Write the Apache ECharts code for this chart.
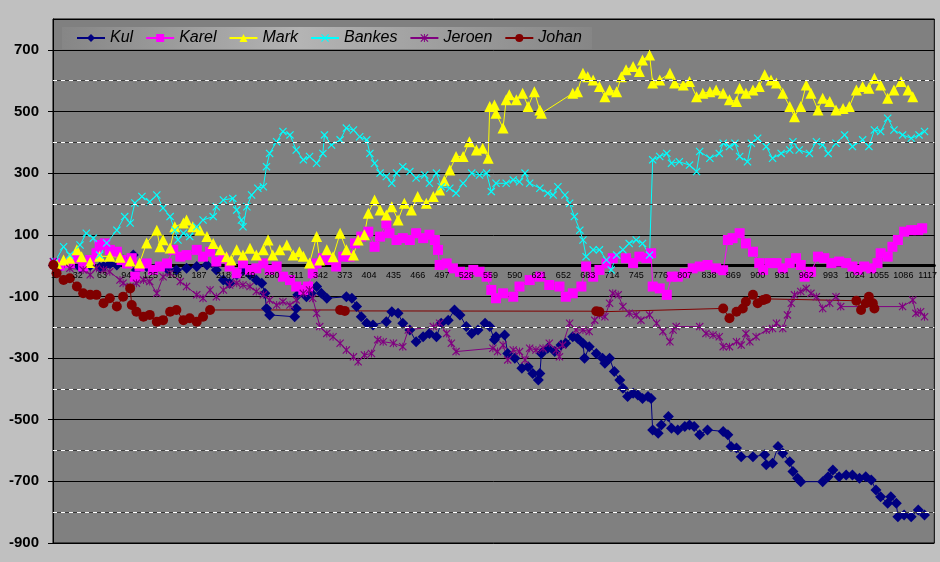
<!DOCTYPE html>
<html>
<head>
<meta charset="utf-8">
<script src="https://cdn.jsdelivr.net/npm/echarts@6/dist/echarts.min.js"></script>
<style>
html,body{margin:0;padding:0;background:#c0c0c0;}
#chart{width:940px;height:562px;}
</style>
</head>
<body>
<div id="chart"></div>
<script>
// ---- data (day number, value) ----
const categories = Array.from({length: 1125}, (_, i) => String(i + 1));
const seriesNames = ['Kul', 'Karel', 'Mark', 'Bankes', 'Jeroen', 'Johan'];
const yLabelValues = [-900, -700, -500, -300, -100, 100, 300, 500, 700];
const dashedValues = [-800, -600, -400, -200, 200, 400, 600];

const kul = [[1,0],[9,-5],[22,5],[35,-5],[48,0],[60,-5],[65,-3],[73,5],[82,2],[90,18],[103,34],[107,-14],[120,-3],[133,-5],[146,-10],[158,-14],[171,-9],[184,-3],[197,2],[209,-14],[218,-47],[226,-57],[235,-30],[243,-14],[252,-30],[260,-47],[267,-57],[271,-90],[273,-139],[277,-160],[309,-166],[311,-139],[313,-95],[318,-79],[324,-101],[330,-90],[337,-68],[343,-90],[350,-106],[375,-101],[382,-106],[388,-133],[394,-166],[401,-187],[409,-193],[426,-182],[433,-150],[441,-155],[447,-187],[456,-209],[464,-247],[473,-231],[481,-220],[490,-231],[496,-187],[505,-177],[513,-144],[520,-160],[528,-198],[535,-220],[543,-209],[552,-187],[558,-198],[564,-241],[566,-231],[577,-225],[581,-285],[590,-301],[599,-333],[607,-328],[613,-350],[620,-371],[622,-350],[624,-285],[632,-268],[641,-279],[649,-258],[655,-252],[664,-231],[670,-236],[677,-252],[679,-301],[685,-263],[694,-285],[702,-301],[705,-317],[711,-301],[717,-344],[724,-371],[728,-398],[734,-425],[741,-414],[747,-420],[753,-431],[760,-425],[764,-431],[766,-533],[773,-544],[777,-517],[786,-490],[790,-528],[798,-533],[807,-522],[813,-517],[819,-522],[826,-549],[836,-533],[856,-538],[862,-549],[866,-587],[873,-592],[879,-620],[894,-620],[909,-614],[911,-646],[919,-641],[926,-587],[932,-609],[941,-636],[945,-668],[951,-690],[955,-701],[983,-701],[990,-685],[996,-663],[1004,-685],[1013,-679],[1021,-679],[1030,-690],[1038,-685],[1045,-696],[1051,-728],[1057,-750],[1066,-771],[1070,-750],[1077,-771],[1079,-815],[1087,-809],[1096,-815],[1105,-793],[1113,-809]];

const karel = [[3,8],[9,0],[22,8],[31,24],[39,-3],[48,18],[56,40],[60,67],[67,72],[73,51],[82,45],[88,18],[95,7],[101,24],[105,-36],[111,-3],[120,7],[128,-14],[137,-3],[146,7],[154,51],[163,29],[171,34],[184,51],[192,29],[201,45],[209,13],[218,24],[226,-3],[235,-25],[243,7],[252,-14],[260,-9],[269,7],[277,-14],[286,-3],[294,-36],[303,-47],[311,-68],[320,-79],[326,-68],[332,-25],[337,7],[345,24],[354,18],[362,-3],[371,29],[379,29],[386,72],[394,94],[403,110],[411,61],[418,94],[426,137],[430,105],[439,83],[447,89],[456,83],[464,105],[473,89],[481,100],[488,83],[492,51],[494,2],[503,7],[511,-9],[520,-20],[528,-30],[537,-14],[545,-20],[554,-36],[560,-79],[566,-106],[575,-90],[588,-101],[596,-68],[609,-47],[622,-36],[634,-63],[647,-68],[655,-101],[664,-90],[675,-68],[681,-3],[690,-36],[698,-14],[707,7],[715,24],[732,24],[741,8],[749,29],[758,24],[764,40],[766,-68],[775,-74],[784,-95],[790,-36],[798,-36],[807,-25],[817,-9],[826,-3],[836,2],[847,-9],[856,-15],[862,83],[868,89],[877,105],[885,72],[894,45],[902,8],[907,-14],[915,8],[924,8],[932,-9],[941,8],[949,24],[955,2],[960,-36],[968,-20],[977,29],[985,24],[994,8],[1004,13],[1013,8],[1021,-3],[1028,-14],[1036,-3],[1045,-9],[1053,8],[1057,40],[1066,29],[1072,61],[1079,83],[1087,110],[1096,115],[1105,115],[1110,121]];

const mark = [[5,7],[14,18],[22,24],[31,51],[37,29],[48,10],[60,30],[73,30],[86,27],[99,15],[111,8],[120,73],[133,115],[137,61],[141,84],[150,57],[156,126],[167,138],[171,148],[179,126],[188,115],[197,94],[205,72],[214,51],[222,29],[228,18],[235,51],[243,34],[252,56],[260,34],[269,51],[275,83],[281,34],[290,51],[299,67],[307,34],[315,45],[320,30],[328,8],[337,94],[341,18],[350,51],[358,29],[367,105],[375,51],[384,34],[390,83],[398,100],[403,170],[411,213],[418,180],[426,164],[433,191],[441,148],[449,202],[458,180],[466,224],[477,202],[486,224],[494,245],[500,275],[507,310],[515,354],[524,354],[532,402],[541,375],[549,381],[556,348],[558,516],[564,521],[566,494],[575,446],[579,538],[583,554],[592,538],[600,559],[607,516],[615,564],[622,505],[624,494],[664,559],[670,564],[677,624],[683,613],[690,602],[698,581],[705,548],[711,570],[720,564],[726,613],[732,635],[741,646],[749,630],[753,667],[762,683],[766,592],[775,602],[788,624],[794,592],[805,586],[813,597],[822,548],[830,559],[839,564],[847,570],[856,559],[864,538],[873,532],[877,575],[885,559],[894,570],[902,581],[909,619],[917,602],[924,592],[932,559],[941,516],[947,483],[955,516],[962,586],[968,559],[977,505],[983,543],[992,532],[1000,505],[1009,510],[1017,516],[1026,570],[1034,581],[1042,575],[1049,608],[1057,586],[1066,543],[1074,570],[1083,597],[1092,570],[1098,548]];

const bankes = [[3,13],[14,61],[22,34],[35,67],[43,105],[52,89],[60,34],[69,73],[82,115],[92,159],[99,138],[105,203],[114,224],[124,207],[133,229],[141,187],[150,159],[156,115],[160,83],[167,105],[175,94],[184,126],[192,148],[205,159],[209,191],[218,213],[230,218],[235,180],[241,148],[243,126],[248,191],[254,229],[262,251],[269,256],[273,321],[277,364],[286,402],[294,435],[303,424],[311,375],[320,343],[328,354],[337,332],[345,364],[347,424],[356,391],[367,408],[375,446],[384,440],[392,418],[401,408],[405,364],[411,332],[418,300],[426,289],[433,267],[439,300],[447,321],[456,305],[464,284],[475,294],[481,267],[490,300],[496,256],[507,251],[515,235],[524,267],[535,300],[545,294],[554,300],[560,240],[566,267],[579,267],[588,278],[596,272],[603,300],[609,267],[622,251],[632,235],[639,229],[645,256],[654,229],[660,202],[666,159],[673,115],[677,83],[681,29],[690,51],[698,51],[707,18],[713,-14],[720,34],[728,51],[736,72],[745,83],[753,72],[762,34],[766,343],[775,354],[784,364],[790,332],[800,337],[813,326],[822,305],[826,370],[839,348],[851,364],[856,397],[864,386],[871,397],[877,354],[887,337],[892,397],[900,413],[911,386],[919,348],[930,364],[941,375],[945,402],[953,375],[966,364],[975,402],[983,391],[990,364],[1000,397],[1011,424],[1021,386],[1034,408],[1042,386],[1049,440],[1057,435],[1066,478],[1074,440],[1085,424],[1096,413],[1106,424],[1113,435]];

const jeroen = [[1,13],[22,-9],[39,-14],[48,-30],[56,-9],[65,-14],[73,-20],[86,-47],[90,-57],[99,-68],[107,-57],[116,-47],[124,-52],[133,-90],[141,-36],[150,-25],[163,-52],[171,-68],[184,-95],[192,-106],[201,-79],[209,-101],[218,-79],[226,-63],[235,-57],[243,-63],[252,-68],[260,-84],[269,-95],[277,-112],[286,-128],[294,-117],[303,-128],[311,-112],[320,-90],[328,-79],[332,-106],[337,-155],[341,-198],[350,-220],[358,-231],[367,-252],[375,-274],[384,-296],[390,-312],[398,-290],[407,-285],[415,-241],[422,-247],[435,-252],[447,-263],[454,-209],[486,-198],[494,-187],[503,-220],[509,-252],[515,-279],[562,-268],[568,-279],[575,-258],[581,-306],[588,-274],[596,-279],[603,-306],[609,-268],[617,-274],[626,-268],[634,-252],[643,-274],[647,-296],[651,-258],[660,-187],[668,-209],[677,-209],[685,-214],[692,-177],[698,-160],[705,-166],[711,-122],[715,-90],[722,-95],[728,-133],[736,-155],[745,-160],[751,-177],[762,-160],[771,-187],[779,-214],[788,-247],[792,-209],[796,-198],[826,-198],[834,-220],[843,-225],[851,-231],[856,-263],[864,-263],[873,-247],[879,-258],[885,-220],[890,-247],[898,-231],[911,-209],[919,-204],[924,-187],[932,-204],[938,-160],[943,-122],[947,-95],[955,-84],[962,-74],[968,-90],[975,-101],[983,-139],[992,-122],[1000,-101],[1006,-133],[1085,-133],[1098,-112],[1102,-155],[1108,-150],[1113,-166]];

const johan = [[1,2],[5,-25],[14,-47],[22,-41],[31,-68],[39,-90],[48,-95],[56,-95],[65,-122],[73,-106],[82,-133],[90,-101],[99,-74],[101,-128],[107,-150],[116,-166],[124,-160],[133,-182],[141,-177],[150,-150],[158,-144],[167,-177],[175,-171],[184,-182],[192,-166],[201,-144],[367,-144],[373,-147],[694,-148],[698,-150],[856,-139],[864,-171],[873,-150],[881,-139],[885,-117],[894,-95],[900,-122],[907,-112],[911,-108],[1026,-114],[1032,-144],[1038,-122],[1042,-101],[1047,-122],[1049,-139]];

// ---- chart ----
const colors = ['#000080', '#ff00ff', '#ffff00', '#00ffff', '#800080', '#800000'];
const xMark = 'path://M0,1L1,0L5,4L9,0L10,1L6,5L10,9L9,10L5,6L1,10L0,9L4,5Z';
const starMark = 'path://M0,1L1,0L5,4L9,0L10,1L6,5L10,9L9,10L5,6L1,10L0,9L4,5Z M4.4,0L5.6,0L5.6,10L4.4,10Z';
const symbols = ['diamond', 'rect', 'triangle', xMark, starMark, 'circle'];
const sizes = [11, 10, 11, 8, 8, 10];
const dataSets = [kul, karel, mark, bankes, jeroen, johan];

const series = dataSets.map((d, i) => ({
  name: seriesNames[i],
  type: 'line',
  xAxisIndex: 0,
  data: d.map(p => [String(p[0]), p[1]]),
  symbol: symbols[i],
  symbolSize: sizes[i],
  showAllSymbol: true,
  color: colors[i],
  lineStyle: {width: 1, color: colors[i]},
  itemStyle: {color: colors[i]},
  emphasis: {disabled: true},
  z: 3
}));

series.unshift({
  type: 'line', data: [], silent: true, z: 1,
  markLine: {
    silent: true, symbol: 'none', label: {show: false},
    lineStyle: {color: '#3a3a3a', type: 'solid', width: 1},
    data: dashedValues.map(v => ({yAxis: v}))
  }
}, {
  type: 'line', data: [], silent: true, z: 1,
  markLine: {
    silent: true, symbol: 'none', label: {show: false},
    lineStyle: {color: '#ffffff', type: [4, 4], width: 1},
    data: dashedValues.map(v => ({yAxis: v}))
  }
});

const GRID_TOP = 19, GRID_BOTTOM = 19, H = 562;
const labelFont = 'Liberation Sans, Arial, sans-serif';
const chart = echarts.init(document.getElementById('chart'), null, {renderer: 'canvas'});
chart.setOption({
  animation: false,
  backgroundColor: '#c0c0c0',
  grid: {
    left: 53, top: GRID_TOP, right: 5, bottom: GRID_BOTTOM,
    show: true, backgroundColor: '#808080', borderColor: '#000', borderWidth: 1
  },
  legend: {
    data: seriesNames,
    left: 62, top: 27,
    itemWidth: 28, itemHeight: 10, itemGap: 12,
    padding: [3, 10, 3, 14],
    backgroundColor: {
      type: 'linear', x: 0, y: 0, x2: 1, y2: 0,
      colorStops: [
        {offset: 0, color: '#868686'},
        {offset: 0.45, color: '#b4b4b4'},
        {offset: 1, color: '#868686'}
      ]
    },
    textStyle: {fontFamily: labelFont, fontSize: 16, fontStyle: 'italic', color: '#000'}
  },
  xAxis: [{
    // axis line at zero (below the marks)
    type: 'category', position: 'bottom',
    data: categories, boundaryGap: true, z: 0,
    axisLine: {onZero: false, lineStyle: {color: '#000', width: 3}},
    axisTick: {show: false},
    axisLabel: {show: false},
    splitLine: {show: false}
  }, {
    // tick labels on top of the marks
    type: 'category', position: 'bottom',
    data: categories, boundaryGap: true, z: 10,
    axisLine: {show: false, onZero: false},
    axisTick: {show: false},
    axisLabel: {interval: 30, fontSize: 9, color: '#000', margin: 5, fontFamily: labelFont},
    splitLine: {show: false}
  }],
  yAxis: {
    type: 'value',
    min: -900, max: 800, interval: 200,
    axisLine: {show: true, onZero: false, lineStyle: {color: '#000', width: 1}},
    axisTick: {show: true, length: 5, lineStyle: {color: '#000'}},
    axisLabel: {
      showMaxLabel: false,
      fontSize: 15, fontWeight: 'bold', color: '#000', margin: 14,
      fontFamily: labelFont,
      formatter: v => (yLabelValues.indexOf(v) >= 0 ? String(v) : '')
    },
    splitLine: {show: true, lineStyle: {color: '#000', width: 1}}
  },
  series: series
});
// move the category axes (line + labels) up to the zero value, as in the original
const zeroY = chart.convertToPixel({yAxisIndex: 0}, 0);
const off = -((H - GRID_BOTTOM) - zeroY);
chart.setOption({xAxis: [{offset: off}, {offset: off}]});
</script>
</body>
</html>
